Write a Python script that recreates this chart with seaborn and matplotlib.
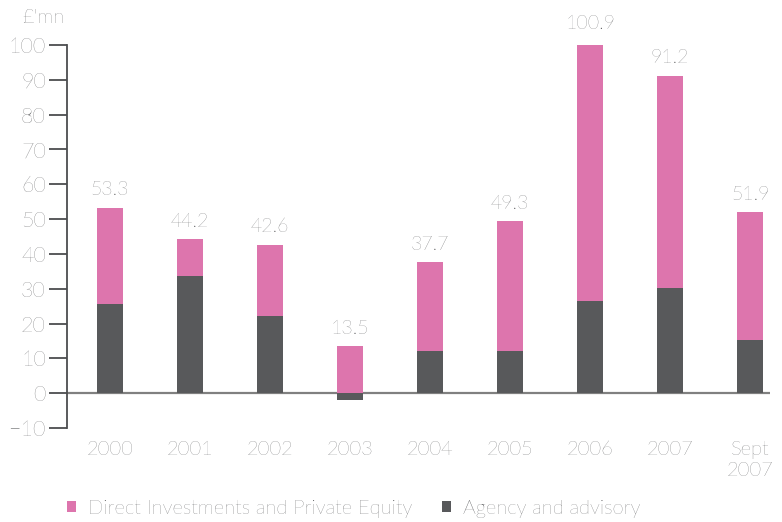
import pandas as pd
import matplotlib.pyplot as plt
import seaborn as sns

# values (£'mn)
years = ['2000', '2001', '2002', '2003', '2004', '2005', '2006', '2007', 'Sept\n2007']
totals = [53.3, 44.2, 42.6, 13.5, 37.7, 49.3, 100.9, 91.2, 51.9]
agency = [25.6, 33.6, 22.1, -2.0, 12.2, 12.2, 26.5, 30.3, 15.2]

pink = '#dd75ad'
dark = '#58595b'
grey = '#4c4d4f'

sns.set_style('white')
plt.rcParams['font.family'] = ['Lato', 'DejaVu Sans']

df = pd.DataFrame({'year': years, 'total': totals, 'agency': agency})

fig = plt.figure(figsize=(7.82, 5.22), dpi=100)
ax = fig.add_axes([0.0853, 0.180, 0.8997, 0.734])

sns.barplot(data=df, x='year', y='total', order=years, color=pink, linewidth=0,
            width=0.33, saturation=1, ax=ax, label='Direct Investments and Private Equity')
sns.barplot(data=df, x='year', y='agency', order=years, color=dark, linewidth=0,
            width=0.33, saturation=1, ax=ax, label='Agency and advisory')

lbls = ax.bar_label(ax.containers[0], labels=[f'{v:.1f}' for v in totals], padding=6,
                    fontsize=14, color=grey, fontweight='light')
for t in lbls:
    t.set_annotation_clip(False)
    t.set_clip_on(False)

ax.set_xlim(-0.54, 8.25)
ax.set_ylim(-10, 100)
ax.set_yticks(range(-10, 101, 10))
ax.axhline(0, color='#808080', lw=1.6, zorder=0)

for s in ['top', 'right', 'bottom']:
    ax.spines[s].set_visible(False)
ax.spines['left'].set_color(grey)
ax.spines['left'].set_linewidth(1.3)

ax.tick_params(axis='y', left=True, length=13, width=1.3, color=grey,
               labelsize=15.5, labelcolor=grey, pad=2)
ax.tick_params(axis='x', bottom=False, labelsize=14.5, labelcolor=grey, pad=6)
for t in ax.get_xticklabels() + ax.get_yticklabels():
    t.set_fontweight('light')

ax.set_xlabel('')
ax.set_ylabel('')
if ax.legend_:
    ax.legend_.remove()

fig.text(0.028, 0.966, "£'mn", fontsize=14.5, color=grey, fontweight='light', va='center')

handles, labels = ax.get_legend_handles_labels()
leg = fig.legend(handles, labels, loc='center left', bbox_to_anchor=(0.062, 0.025),
                 ncol=2, frameon=False, fontsize=14.5, handlelength=0.45, handleheight=0.45,
                 handletextpad=0.6, columnspacing=1.5)
for t in leg.get_texts():
    t.set_color(grey)
    t.set_fontweight('light')

fig.savefig('out.png', dpi=100)
